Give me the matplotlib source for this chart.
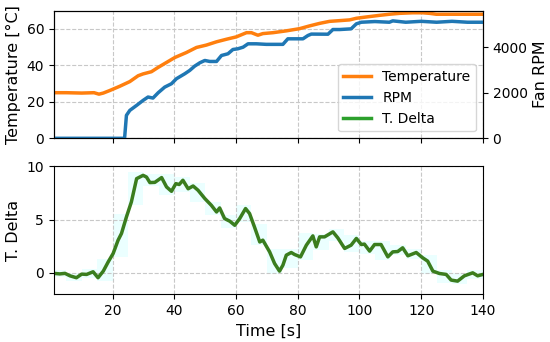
import numpy as np
import matplotlib
matplotlib.use("Agg")
import matplotlib.pyplot as plt

# values
t_temp = [1, 5, 10, 14, 15.6, 17, 19.1, 22.3, 25.6, 28.3, 29.9, 32.6, 34.8, 37.5,
          40.2, 43.9, 47.2, 50.4, 53.7, 56.9, 60.1, 63.4, 65, 67.1, 68.7, 72,
          76.3, 80.6, 83.8, 87.1, 90.3, 93.6, 96.8, 99, 102.2, 106.5, 109.7,
          113, 117.3, 120.5, 122.7, 124.9, 130, 135, 140]
temp = [25.0, 25.0, 24.8, 25.0, 24.2, 24.8, 26.2, 28.5, 31.1, 34.3, 35.3, 36.5,
        38.9, 41.6, 44.3, 47.0, 49.8, 51.1, 52.9, 54.3, 55.6, 57.9, 57.9, 56.5,
        57.4, 57.9, 58.9, 60.1, 61.6, 63.0, 64.1, 64.5, 64.9, 65.8, 66.5, 67.4,
        68.0, 68.5, 68.8, 68.8, 68.5, 68.0, 68.0, 68.0, 68.0]

t_rpm = [1, 23.9, 24.5, 25.6, 27.8, 29.9, 31.5, 33.1, 34.8, 36.9, 39.1, 40.7,
         43.4, 45, 46.6, 48.3, 49.9, 51.5, 53.7, 55.3, 57.4, 59, 60.6, 62.3,
         63.9, 66.6, 69.8, 75.2, 76.8, 80.6, 81.7, 83.3, 84.4, 89.8, 91.4,
         93.6, 97.3, 99, 100.6, 105, 109.7, 110.8, 115, 120, 125, 130, 135, 140]
rpm = [0, 0, 1007, 1225, 1444, 1663, 1810, 1765, 2000, 2245, 2394, 2613, 2830,
       2976, 3164, 3313, 3413, 3370, 3370, 3632, 3707, 3895, 3926, 3996, 4144,
       4144, 4120, 4120, 4363, 4363, 4363, 4508, 4570, 4565, 4770, 4770, 4800,
       5020, 5090, 5120, 5090, 5150, 5090, 5130, 5090, 5130, 5090, 5090]

t_delta = [1, 2.9, 4.6, 6.2, 8.3, 10, 11.6, 13.7, 15.3, 17, 18.6, 20.2, 21.8,
           22.9, 24.5, 26.1, 27.8, 29.9, 31, 32.1, 33.7, 35.9, 37.5, 39.1, 40.5,
           41.6, 42.8, 44.5, 46.1, 47.7, 49.9, 52, 53.7, 54.7, 56.3, 58, 59.6,
           61.2, 63.1, 64.4, 66, 67.7, 68.7, 70.9, 72.5, 74.1, 75.2, 76.3, 77.9,
           79, 80.9, 82.8, 84.9, 86, 87.1, 88.7, 91.4, 93, 95.2, 97.3, 99,
           100.6, 101.6, 103.3, 104.9, 107, 109.2, 110.8, 112.4, 114, 115.7,
           118.4, 120.5, 122.1, 123.8, 125.9, 128.1, 129.7, 131.8, 134, 136.7,
           138.3, 140]
delta = [-0.05, -0.1, -0.05, -0.28, -0.46, -0.12, -0.15, 0.1, -0.46, 0.16, 1.03,
         1.82, 3.07, 3.7, 5.25, 6.66, 8.85, 9.16, 9.0, 8.48, 8.5, 8.95, 8.07,
         7.66, 8.38, 8.3, 8.7, 7.9, 8.16, 7.76, 6.98, 6.35, 5.72, 6.1, 5.1,
         4.85, 4.47, 5.1, 6.04, 5.57, 4.3, 2.9, 3.07, 1.97, 0.88, 0.16, 0.72,
         1.66, 1.91, 1.72, 1.5, 2.6, 3.47, 2.44, 3.38, 3.38, 3.85, 3.28, 2.29,
         2.6, 3.23, 2.66, 2.7, 2.04, 2.66, 2.66, 1.5, 1.97, 2.0, 2.35, 1.6,
         1.91, 1.41, 1.1, 0.16, -0.06, -0.15, -0.68, -0.78, -0.28, 0.0, -0.28,
         -0.15]

# step envelope around T. Delta, in 5 s blocks
td = np.array(t_delta)
dv = np.array(delta)
edges = np.arange(0, 146, 5)
band_x, band_lo, band_hi = [], [], []
for a, b in zip(edges[:-1], edges[1:]):
    m = (td >= a) & (td < b)
    if m.any():
        band_x.append(a)
        band_lo.append(dv[m].min() - 0.3)
        band_hi.append(dv[m].max() + 0.3)
band_x.append(edges[-1])
band_lo.append(band_lo[-1])
band_hi.append(band_hi[-1])

fig, (ax1, ax3) = plt.subplots(2, 1, figsize=(5.5, 3.42), dpi=100, sharex=True)
fig.subplots_adjust(left=0.098, right=0.878, top=0.969, bottom=0.14, hspace=0.22)

grid_kw = dict(color="#c8c8c8", linestyle="--", linewidth=0.8)

l1, = ax1.plot(t_temp, temp, color="tab:orange", lw=2.5, label="Temperature")
ax1.set_ylim(0, 70)
ax1.set_ylabel("Temperature [°C]", fontsize=11.5)
ax1.grid(True, **grid_kw)
ax1.tick_params(labelsize=10)

ax2 = ax1.twinx()
l2, = ax2.plot(t_rpm, rpm, color="tab:blue", lw=2.5, label="RPM")
ax2.set_ylim(0, 5600)
ax2.set_yticks([0, 2000, 4000])
ax2.set_ylabel("Fan RPM", fontsize=11.5)
ax2.tick_params(labelsize=10)

l3, = ax1.plot([], [], color="tab:green", lw=2.5, label="T. Delta")
ax2.legend(handles=[l1, l2, l3], loc="lower right", fontsize=10)

ax3.fill_between(band_x, band_lo, band_hi, step="post", color="cyan",
                 alpha=0.08, lw=0)
ax3.plot(t_delta, delta, color="#3a7d1e", lw=2.5)
ax3.set_ylim(-2, 10)
ax3.set_yticks([0, 5, 10])
ax3.set_xlim(1, 140)
ax3.set_xticks([20, 40, 60, 80, 100, 120, 140])
ax3.set_ylabel("T. Delta", fontsize=11.5)
ax3.set_xlabel("Time [s]", fontsize=11.5)
ax3.grid(True, **grid_kw)
ax3.tick_params(labelsize=10)

fig.savefig("out.png", dpi=100)
